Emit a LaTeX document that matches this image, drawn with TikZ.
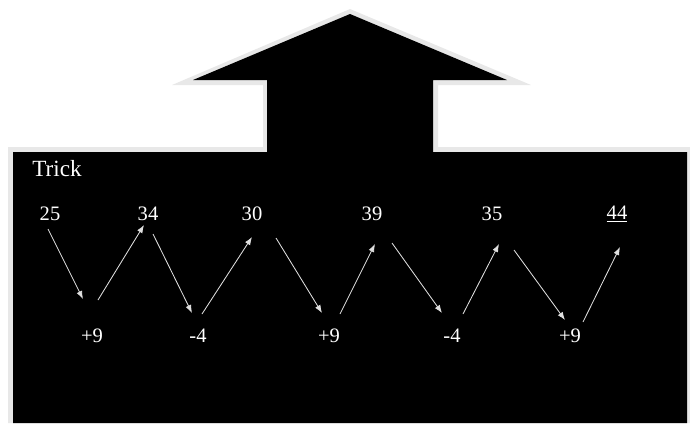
\documentclass[tikz,border=0pt]{standalone}
\usepackage{fontspec}
\setmainfont{Liberation Serif}
\usepackage{tikz}
\usetikzlibrary{arrows.meta,positioning}

\begin{document}
\begin{tikzpicture}[x=0.025cm,y=-0.025cm,>={Latex[length=0.2cm,width=0.15cm]},
  num/.style={text=white,inner sep=0pt,font=\fontsize{14.6}{16}\selectfont},
  step9/.style={text=white,inner sep=0pt,font=\fontsize{14.6}{16}\selectfont},
  jump/.style={->,draw=black!12,line width=0.6pt}]
\useasboundingbox (0,0) rectangle (690,423);
% house shape: grey rim, then black body
\fill[black!9] (8,423) -- (8,147) -- (263,147) -- (263,85) -- (172,85) -- (350,9)
  -- (531,85) -- (438,85) -- (438,147) -- (690,147) -- (690,423) -- cycle;
\fill[black] (13,423) -- (13,152) -- (267,152) -- (267,80) -- (193,80) -- (350,14)
  -- (507,80) -- (433,80) -- (433,152) -- (687,152) -- (687,423) -- cycle;
\node[text=white,inner sep=0pt,font=\fontsize{16.5}{18}\selectfont] (trick) at (57,169) {Trick};
% top row
\node[num] (n1) at (50,214) {25};
\node[num] (n2) at (148,214) {34};
\node[num] (n3) at (252,214) {30};
\node[num] (n4) at (372,214) {39};
\node[num] (n5) at (492,214) {35};
\node[num] (n6) at (617,214) {\underline{44}};
% bottom row
\node[step9] (s1) at (92,336) {+9};
\node[step9] (s2) at (198,336) {-4};
\node[step9] (s3) at (329,336) {+9};
\node[step9] (s4) at (452,336) {-4};
\node[step9] (s5) at (570,336) {+9};
\draw[jump] ([shift={(-2,15)}]n1.center) -- ([shift={(-9,-37)}]s1.center);
\draw[jump] ([shift={(6,-36)}]s1.center) -- ([shift={(-4,11)}]n2.center);
\draw[jump] ([shift={(5,20)}]n2.center) -- ([shift={(-6,-23)}]s2.center);
\draw[jump] ([shift={(4,-22)}]s2.center) -- ([shift={(0,23)}]n3.center);
\draw[jump] ([shift={(24,24)}]n3.center) -- ([shift={(-7,-23)}]s3.center);
\draw[jump] ([shift={(11,-22)}]s3.center) -- ([shift={(3,30)}]n4.center);
\draw[jump] ([shift={(20,29)}]n4.center) -- ([shift={(-10,-23)}]s4.center);
\draw[jump] ([shift={(11,-22)}]s4.center) -- ([shift={(7,30)}]n5.center);
\draw[jump] ([shift={(22,36)}]n5.center) -- ([shift={(-5,-16)}]s5.center);
\draw[jump] ([shift={(13,-14)}]s5.center) -- ([shift={(3,33)}]n6.center);
\end{tikzpicture}
\end{document}
